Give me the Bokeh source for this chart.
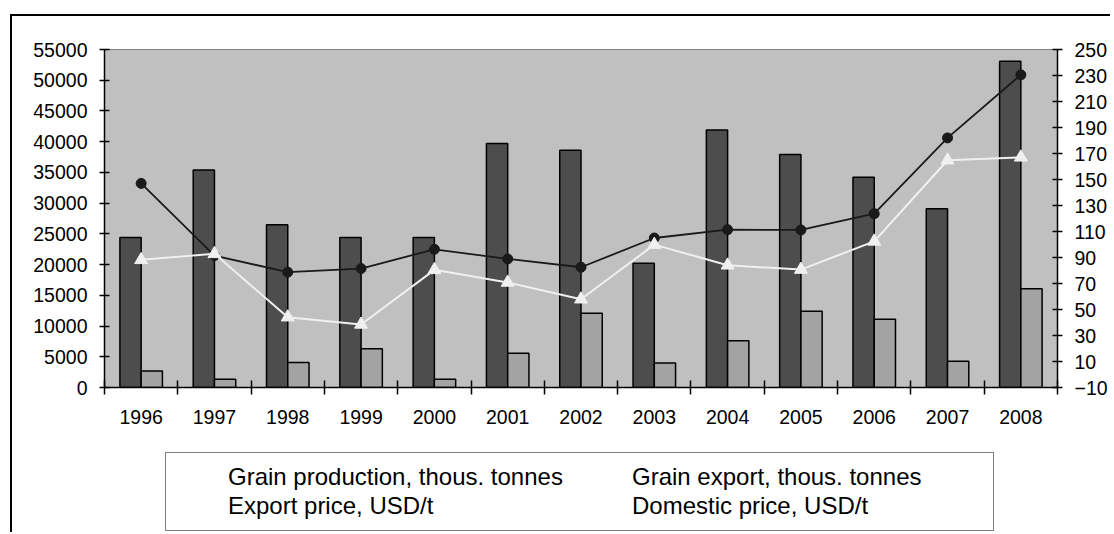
from bokeh.plotting import figure
from bokeh.layouts import column
from bokeh.models import (ColumnDataSource, Range1d, LinearAxis, FixedTicker,
                          NumeralTickFormatter, Legend, LegendItem, CDSView, IndexFilter)
from bokeh.transform import dodge
from bokeh.embed import file_html
from bokeh.resources import INLINE

# ---------------- data ----------------
years = ["1996", "1997", "1998", "1999", "2000", "2001", "2002",
         "2003", "2004", "2005", "2006", "2007", "2008"]
production = [24400, 35400, 26500, 24400, 24400, 39700, 38600,
              20200, 41900, 37900, 34200, 29100, 53100]
export = [2700, 1350, 4050, 6300, 1350, 5560, 12100,
          4000, 7600, 12400, 11100, 4270, 16060]
export_price = [147, 91.5, 78.7, 81.5, 96.3, 88.9, 82.5,
                105, 111.4, 111.2, 123.7, 182, 230.5]
domestic_price = [88.2, 92.8, 44.1, 38.5, 80.5, 70.8, 57.9,
                  99.9, 84, 80.7, 102.4, 164.8, 167.1]
left_ticks = [0, 5000, 10000, 15000, 20000, 25000, 30000,
              35000, 40000, 45000, 50000, 55000]
right_ticks = [-10, 10, 30, 50, 70, 90, 110, 130, 150, 170, 190, 210, 230, 250]
labels = ["Grain production, thous. tonnes", "Grain export, thous. tonnes",
          "Export price, USD/t", "Domestic price, USD/t"]

FONT = "Liberation Sans"

# category slots: centre of slot i is i + 0.5, boundaries at integers
centres = [i + 0.5 for i in range(len(years))]
bounds = list(range(len(years) + 1))

src = ColumnDataSource(dict(x=centres, year=years, production=production, export=export,
                            export_price=export_price, domestic_price=domestic_price))

STY = dict(
    prod=dict(fill_color="#4D4D4D", line_color="black", line_width=1.5),
    exp=dict(fill_color="#A3A3A3", line_color="black", line_width=1.5),
    epl=dict(line_color="#1A1A1A", line_width=1.8),
    epm=dict(marker="circle", size=10, fill_color="#1A1A1A", line_color="#1A1A1A"),
    dpl=dict(line_color="#F0F0F0", line_width=2),
    dpm=dict(marker="triangle", size=13, fill_color="#F0F0F0", line_color="#F0F0F0"),
)

# ---------------- main chart ----------------
p = figure(width=1098, height=431,
           x_range=Range1d(0, len(years)), y_range=Range1d(left_ticks[0], left_ticks[-1]),
           x_axis_location=None, toolbar_location=None, output_backend="svg",
           min_border_left=92, min_border_right=51, min_border_top=33, min_border_bottom=60)
p.background_fill_color = "#C0C0C0"
p.border_fill_color = "white"
p.outline_line_color = "#808080"
p.outline_line_width = 1
p.grid.grid_line_color = None

p.extra_y_ranges = {"r": Range1d(right_ticks[0], right_ticks[-1])}

ya = p.yaxis[0]
ya.ticker = FixedTicker(ticks=left_ticks, minor_ticks=[])
ya.formatter = NumeralTickFormatter(format="0")
ra = LinearAxis(y_range_name="r", ticker=FixedTicker(ticks=right_ticks, minor_ticks=[]))
p.add_layout(ra, "right")
for ax in (ya, ra):
    ax.axis_line_color = "black"
    ax.axis_line_width = 1.5
    ax.major_tick_line_color = "black"
    ax.major_tick_line_width = 1.5
    ax.major_tick_in = 5
    ax.major_tick_out = 5
    ax.minor_tick_line_color = None
    ax.major_label_standoff = 12
    ax.major_label_text_font = FONT
    ax.major_label_text_font_size = "19.5px"
    ax.major_label_text_color = "black"

# bottom axis: ticks at category boundaries, labels at centres
xa = LinearAxis(ticker=FixedTicker(ticks=centres, minor_ticks=bounds))
xa.major_label_overrides = {c: y for c, y in zip(centres, years)}
xa.axis_line_color = "black"
xa.axis_line_width = 1.5
xa.major_tick_in = 0
xa.major_tick_out = 0
xa.minor_tick_line_color = "black"
xa.minor_tick_line_width = 1.5
xa.minor_tick_in = 7
xa.minor_tick_out = 7
xa.major_label_standoff = 15
xa.major_label_text_font = FONT
xa.major_label_text_font_size = "19.5px"
xa.major_label_text_color = "black"
p.add_layout(xa, "below")

p.vbar(x=dodge("x", -0.145), top="production", width=0.29, source=src, **STY["prod"])
p.vbar(x=dodge("x", 0.145), top="export", width=0.29, source=src, **STY["exp"])
p.line(x="x", y="export_price", source=src, y_range_name="r", **STY["epl"])
p.scatter(x="x", y="export_price", source=src, y_range_name="r", **STY["epm"])
p.line(x="x", y="domestic_price", source=src, y_range_name="r", **STY["dpl"])
p.scatter(x="x", y="domestic_price", source=src, y_range_name="r", **STY["dpm"])

# ---------------- legend strip (key glyphs only: the view selects no rows) ----------------
q = figure(width=1098, height=85, x_range=Range1d(0, len(years)), y_range=Range1d(0, 1),
           x_axis_location=None, y_axis_location=None, toolbar_location=None,
           output_backend="svg", min_border=0)
q.background_fill_color = "white"
q.border_fill_color = "white"
q.outline_line_color = None
q.grid.grid_line_color = None
none = CDSView(filter=IndexFilter(indices=[]))
k_prod = q.vbar(x=dodge("x", -0.145), top="production", width=0.29, source=src, view=none, **STY["prod"])
k_exp = q.vbar(x=dodge("x", 0.145), top="export", width=0.29, source=src, view=none, **STY["exp"])
k_epl = q.line(x="x", y="export_price", source=src, view=none, **STY["epl"])
k_epm = q.scatter(x="x", y="export_price", source=src, view=none, **STY["epm"])
k_dpl = q.line(x="x", y="domestic_price", source=src, view=none, **STY["dpl"])
k_dpm = q.scatter(x="x", y="domestic_price", source=src, view=none, **STY["dpm"])

legend = Legend(items=[
    LegendItem(label=labels[0], renderers=[k_prod]),
    LegendItem(label=labels[1], renderers=[k_exp]),
    LegendItem(label=labels[2], renderers=[k_epl, k_epm]),
    LegendItem(label=labels[3], renderers=[k_dpl, k_dpm]),
], location=(61, 1), orientation="horizontal", ncols=2)
legend.glyph_width = 44
legend.glyph_height = 11
legend.label_standoff = 8
legend.label_width = 351
legend.label_height = 28
legend.spacing = 1
legend.padding = 10
legend.margin = 0
legend.label_text_font = FONT
legend.label_text_font_size = "24px"
legend.label_text_color = "black"
legend.border_line_color = "black"
legend.border_line_width = 1.5
legend.background_fill_color = "white"
legend.background_fill_alpha = 1
q.add_layout(legend)

page = column(p, q, spacing=0)
page.styles = {"margin-left": "10px", "margin-top": "14px",
               "border-left": "2px solid black", "border-top": "2px solid black"}

open("out.html", "w").write(file_html(page, INLINE))
